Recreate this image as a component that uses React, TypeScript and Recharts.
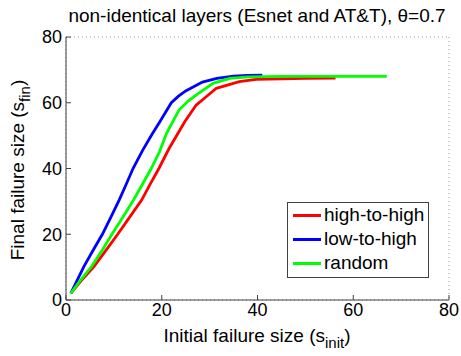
import React from "react";
import {
  LineChart,
  Line,
  XAxis,
  YAxis,
  CartesianGrid,
} from "recharts";

// high-to-high (red)
const highX = [1, 3, 5.8, 8.3, 10.8, 13.3, 15.8, 17.5, 19.4, 21.5, 24.8, 27.2, 28.6, 31.4, 36.2, 39.7, 45, 50, 56.3];
const highY = [2, 5.6, 10.1, 15, 20, 25.2, 30.4, 35, 40, 46, 54.2, 59.3, 61, 64.4, 66.4, 67.1, 67.3, 67.4, 67.5];

// low-to-high (blue)
const lowX = [1, 3.7, 5.6, 7.6, 9.3, 11.1, 12.6, 14, 16, 18, 19.6, 22, 23.5, 25, 28.5, 31.5, 35, 38, 41];
const lowY = [2, 10.1, 15, 20, 25, 30.4, 35.3, 40, 45.5, 50.5, 54.2, 60, 62, 63.6, 66.3, 67.4, 68.1, 68.3, 68.4];

// random (green)
const randX = [1, 3, 5.3, 7.5, 9.6, 11.8, 14.1, 16, 17.8, 19.5, 21, 23.6, 25.5, 27.6, 30.7, 34.2, 38, 45, 67];
const randY = [2, 6, 10.1, 15, 20, 25, 30.4, 35.3, 40, 45, 50.7, 57.8, 60.5, 62.8, 65.9, 67.4, 67.9, 68, 68];

const ticks = [0, 20, 40, 60, 80];

const toPoints = (xs: number[], ys: number[]) =>
  xs.map((x, i) => ({ sinit: x, sfin: ys[i] }));

const series = [
  { name: "high-to-high", color: "#ff0000", data: toPoints(highX, highY) },
  { name: "low-to-high", color: "#0000ff", data: toPoints(lowX, lowY) },
  { name: "random", color: "#00ff00", data: toPoints(randX, randY) },
];

const FONT = "'Liberation Sans', Arial, Helvetica, sans-serif";
const AXIS = "#404040";

// legend drawn as an overlay so it doesn't eat into the plot area
function LegendBox() {
  return (
    <div
      style={{
        position: "absolute",
        left: 287,
        top: 202,
        border: `1px solid ${AXIS}`,
        background: "#fff",
        width: 142,
        height: 76,
        paddingLeft: 5,
        boxSizing: "border-box",
        fontFamily: FONT,
        fontSize: 19,
        color: "#000",
      }}
    >
      {series.map((s) => (
        <div
          key={s.name}
          style={{ display: "flex", alignItems: "center", height: 24 }}
        >
          <div style={{ width: 28, height: 3, background: s.color, marginRight: 3 }} />
          <span>{s.name}</span>
        </div>
      ))}
    </div>
  );
}

export default function App() {
  return (
    <div
      style={{
        position: "absolute",
        left: 0,
        top: 0,
        width: 461,
        height: 356,
        background: "#fff",
      }}
    >
      <LineChart
        width={461}
        height={356}
        margin={{ top: 37, right: 12, bottom: 26, left: 26 }}
      >
        <text x={257} y={22} textAnchor="middle" fontFamily={FONT} fontSize={19} fill="#000">
          non-identical layers (Esnet and AT&amp;T), θ=0.7
        </text>
        <CartesianGrid stroke="#999" strokeDasharray="1 3" />
        <XAxis
          xAxisId="b"
          type="number"
          dataKey="sinit"
          domain={[0, 80]}
          ticks={ticks}
          height={30}
          tickSize={-5}
          tickMargin={8}
          stroke={AXIS}
          tick={{ fill: "#000", fontSize: 18, fontFamily: FONT }}
          label={{
            content: () => (
              <text x={257} y={342} textAnchor="middle" fontFamily={FONT} fontSize={19} fill="#000">
                Initial failure size (s
                <tspan dy={6} fontSize={15}>init</tspan>
                <tspan dy={-6}>)</tspan>
              </text>
            ),
          }}
        />
        <XAxis
          xAxisId="t"
          orientation="top"
          type="number"
          dataKey="sinit"
          domain={[0, 80]}
          ticks={ticks}
          height={0}
          tickSize={-5}
          tick={false}
          stroke={AXIS}
        />
        <YAxis
          yAxisId="l"
          type="number"
          domain={[0, 80]}
          ticks={ticks}
          width={40}
          tickSize={-5}
          tickMargin={9}
          stroke={AXIS}
          tick={{ fill: "#000", fontSize: 18, fontFamily: FONT }}
          label={{
            content: () => (
              <text
                x={24}
                y={170}
                textAnchor="middle"
                fontFamily={FONT}
                fontSize={19}
                fill="#000"
                transform="rotate(-90, 24, 170)"
              >
                Final failure size (s
                <tspan dy={6} fontSize={15}>fin</tspan>
                <tspan dy={-6}>)</tspan>
              </text>
            ),
          }}
        />
        <YAxis
          yAxisId="r"
          orientation="right"
          type="number"
          domain={[0, 80]}
          ticks={ticks}
          width={0}
          tickSize={-5}
          tick={false}
          stroke={AXIS}
        />
        {series.map((s) => (
          <Line
            key={s.name}
            xAxisId="b"
            yAxisId="l"
            data={s.data}
            dataKey="sfin"
            name={s.name}
            type="linear"
            stroke={s.color}
            strokeWidth={2.8}
            dot={false}
            isAnimationActive={false}
          />
        ))}
      </LineChart>
      <LegendBox />
    </div>
  );
}
